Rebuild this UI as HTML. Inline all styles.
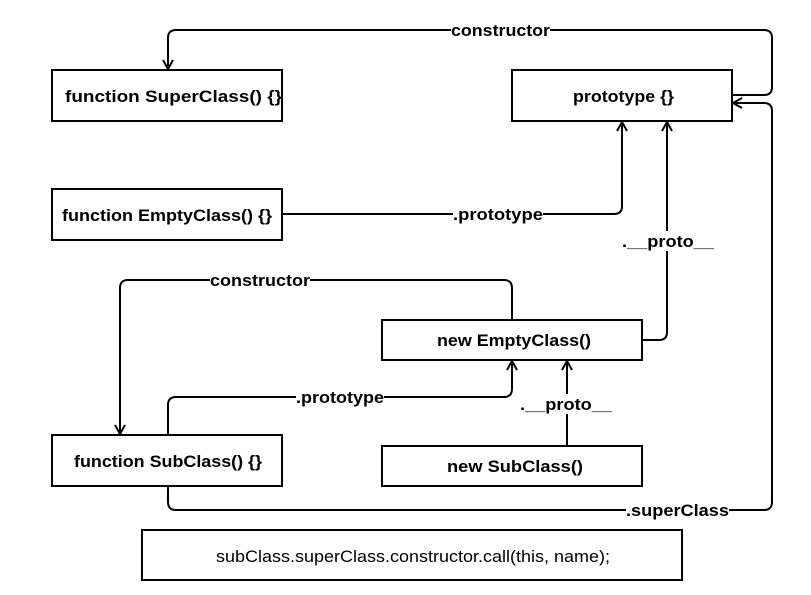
<!DOCTYPE html>
<html><head><style>
html,body{margin:0;padding:0;background:#fff;}
svg{display:block;}
text{font-family:"Liberation Sans",Arial,sans-serif;font-size:17px;font-weight:bold;fill:#000;}
</style></head><body>
<svg width="811" height="595" viewBox="0 0 811 595" xmlns="http://www.w3.org/2000/svg">
<rect x="0" y="0" width="811" height="595" fill="#fff"/>
<g fill="none" stroke="#000" stroke-width="2">
<path d="M732 95 H764 Q772 95 772 87 V38 Q772 30 764 30 H176 Q168 30 168 38 V68"/>
<path d="M163 60 L168 69 L173 60"/>
<path d="M282 214 H614 Q622 214 622 206 V123"/>
<path d="M617 131 L622 122 L627 131"/>
<path d="M642 340 H659 Q667 340 667 332 V123"/>
<path d="M662 131 L667 122 L672 131"/>
<path d="M512 320 V288 Q512 280 504 280 H128 Q120 280 120 288 V433"/>
<path d="M115 425 L120 434 L125 425"/>
<path d="M168 435 V405 Q168 397 176 397 H504 Q512 397 512 389 V362"/>
<path d="M507 370 L512 361 L517 370"/>
<path d="M567 446 V362"/>
<path d="M562 370 L567 361 L572 370"/>
<path d="M168 486 V502 Q168 510 176 510 H764 Q772 510 772 502 V111 Q772 103 764 103 H734"/>
<path d="M742 98 L733 103 L742 108"/>
</g>
<g fill="#fff" stroke="#000" stroke-width="2">
<rect x="52" y="70" width="230" height="51"/>
<rect x="512" y="70" width="220" height="51"/>
<rect x="52" y="189" width="230" height="51"/>
<rect x="382" y="320" width="260" height="40"/>
<rect x="52" y="435" width="230" height="51"/>
<rect x="382" y="446" width="260" height="40"/>
<rect x="142" y="530" width="540" height="50"/>
</g>
<g fill="#fff">
<rect x="451" y="20" width="99" height="20"/>
<rect x="453" y="204" width="90" height="20"/>
<rect x="622" y="231" width="92" height="20"/>
<rect x="210" y="270" width="100" height="20"/>
<rect x="296" y="387" width="88" height="20"/>
<rect x="520" y="394" width="92" height="20"/>
<rect x="626" y="500" width="103" height="20"/>
</g>
<g lengthAdjust="spacingAndGlyphs">
<text x="65" y="102" textLength="217" lengthAdjust="spacingAndGlyphs">function SuperClass() {}</text>
<text x="573" y="102" textLength="101" lengthAdjust="spacingAndGlyphs">prototype {}</text>
<text x="62" y="221" textLength="210" lengthAdjust="spacingAndGlyphs">function EmptyClass() {}</text>
<text x="437" y="346" textLength="154" lengthAdjust="spacingAndGlyphs">new EmptyClass()</text>
<text x="74" y="467" textLength="188" lengthAdjust="spacingAndGlyphs">function SubClass() {}</text>
<text x="447" y="472" textLength="136" lengthAdjust="spacingAndGlyphs">new SubClass()</text>
<text x="216" y="562" textLength="394" lengthAdjust="spacingAndGlyphs" style="font-weight:normal">subClass.superClass.constructor.call(this, name);</text>
<text x="451" y="36" textLength="99" lengthAdjust="spacingAndGlyphs">constructor</text>
<text x="453" y="220" textLength="90" lengthAdjust="spacingAndGlyphs">.prototype</text>
<text x="622" y="247" textLength="92" lengthAdjust="spacingAndGlyphs">.__proto__</text>
<text x="210" y="286" textLength="100" lengthAdjust="spacingAndGlyphs">constructor</text>
<text x="296" y="403" textLength="88" lengthAdjust="spacingAndGlyphs">.prototype</text>
<text x="520" y="410" textLength="92" lengthAdjust="spacingAndGlyphs">.__proto__</text>
<text x="626" y="516" textLength="103" lengthAdjust="spacingAndGlyphs">.superClass</text>
</g>
</svg>
</body></html>
